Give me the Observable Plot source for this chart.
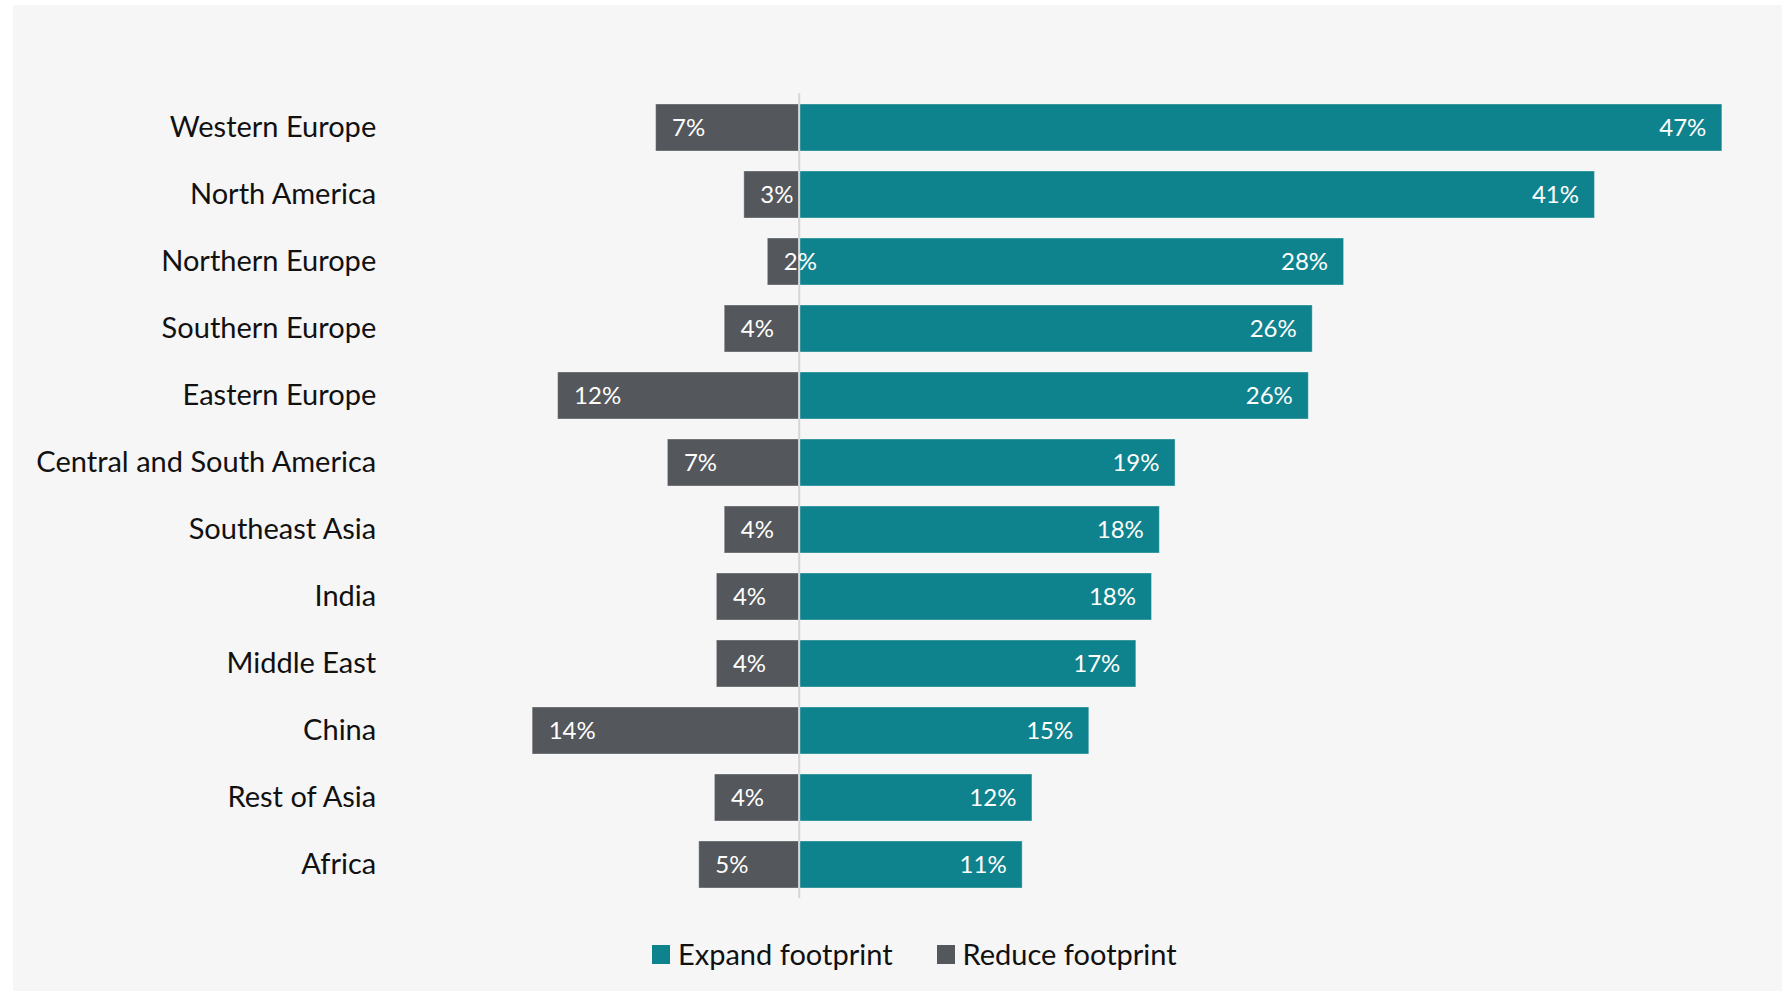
<!DOCTYPE html>
<html>
<head>
<meta charset="utf-8">
<script src="https://cdn.jsdelivr.net/npm/d3@7"></script>
<script src="https://cdn.jsdelivr.net/npm/@observablehq/plot@0.6"></script>
<style>
  html, body { margin: 0; padding: 0; background: #ffffff; width: 1782px; height: 991px; overflow: hidden; font-family: Lato, "Open Sans", sans-serif; }
  #panel { position: absolute; left: 13px; top: 5px; width: 1769px; height: 986px; background: #f6f6f6; }
  #chart { position: absolute; left: 0; top: 0; }
  #legend { position: absolute; left: 652px; top: 935px; display: flex; align-items: center; font-size: 29px; color: #111; line-height: 38px; }
  .item { display: flex; align-items: center; }
  .sw { width: 18px; height: 19px; margin-right: 8px; }
</style>
</head>
<body>
<div id="panel"></div>
<div id="chart"></div>
<div id="legend"></div>
<script>
const regions = ["Western Europe", "North America", "Northern Europe", "Southern Europe", "Eastern Europe",
  "Central and South America", "Southeast Asia", "India", "Middle East", "China", "Rest of Asia", "Africa"];
const expand = [47.1, 40.6, 27.8, 26.2, 26.0, 19.2, 18.4, 18.0, 17.2, 14.8, 11.9, 11.4];
const reduce = [7.3, 2.8, 1.6, 3.8, 12.3, 6.7, 3.8, 4.2, 4.2, 13.6, 4.3, 5.1];
const seriesNames = ["Expand footprint", "Reduce footprint"];
const seriesColors = ["#0f838d", "#54575b"];

const rows = regions.map((r, i) => ({region: r, expand: expand[i], reduce: reduce[i]}));

const plot = Plot.plot({
  width: 1782,
  height: 930,
  marginTop: 83.2,
  marginBottom: 20.8,
  marginLeft: 504.7,
  marginRight: 3.3,
  style: {background: "transparent", fontFamily: "Lato, 'Open Sans', sans-serif", color: "#111"},
  x: {domain: [-15, 50], axis: null},
  y: {domain: regions, padding: 0.3, label: null},
  marks: [
    Plot.barX(rows, {x1: 0, x2: "expand", y: "region", fill: seriesColors[0], stroke: "#ffffff", strokeOpacity: 0.35, strokeWidth: 1}),
    Plot.barX(rows, {x1: d => -d.reduce, x2: 0, y: "region", fill: seriesColors[1], stroke: "#ffffff", strokeOpacity: 0.35, strokeWidth: 1}),
    Plot.ruleX([0], {stroke: "#d6d6d6", strokeWidth: 2, insetTop: 10, insetBottom: 11}),
    Plot.text(rows, {x: "expand", y: "region", text: d => Math.round(d.expand) + "%", textAnchor: "end", dx: -16, fill: "#ffffff", fontSize: 24}),
    Plot.text(rows, {x: d => -d.reduce, y: "region", text: d => Math.round(d.reduce) + "%", textAnchor: "start", dx: 16, fill: "#ffffff", fontSize: 24}),
    Plot.axisY({tickSize: 0, tickPadding: 129, fontSize: 29, label: null, fill: "#111"})
  ]
});
document.getElementById("chart").appendChild(plot);

const legend = document.getElementById("legend");
seriesNames.forEach((name, i) => {
  const item = document.createElement("div");
  item.className = "item";
  if (i > 0) item.style.marginLeft = "44px";
  const sw = document.createElement("div");
  sw.className = "sw";
  sw.style.background = seriesColors[i];
  const t = document.createElement("span");
  t.textContent = name;
  item.appendChild(sw);
  item.appendChild(t);
  legend.appendChild(item);
});
</script>
</body>
</html>
